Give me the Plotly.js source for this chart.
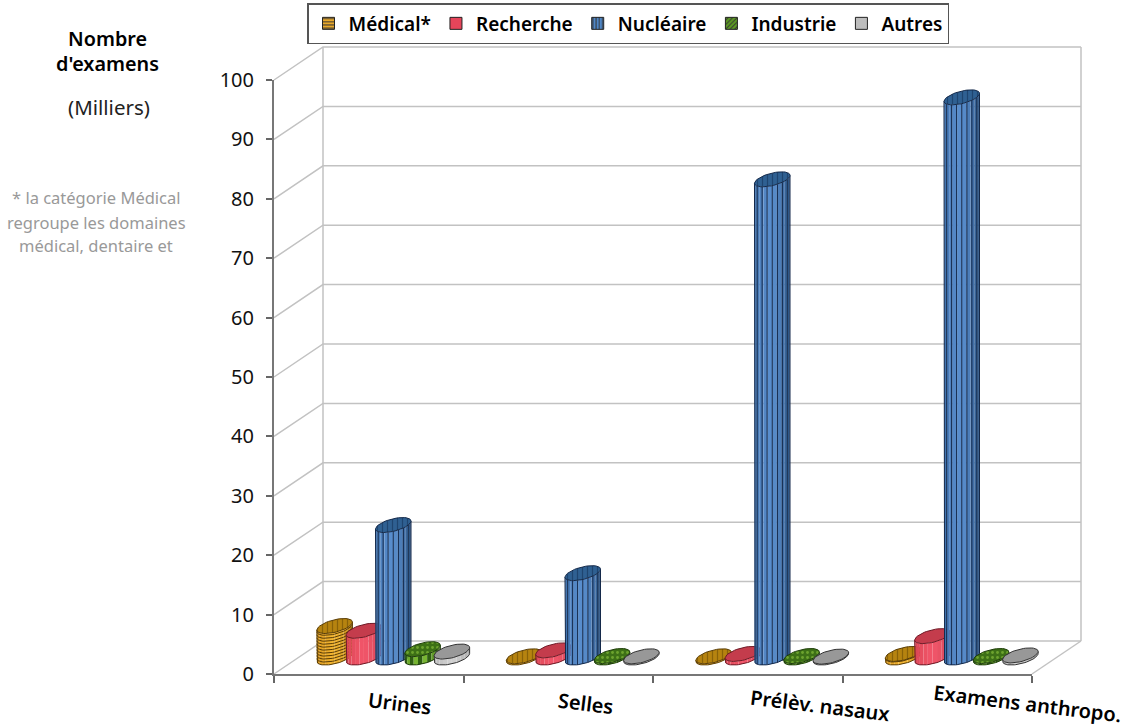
<!DOCTYPE html>
<html lang="fr">
<head>
<meta charset="utf-8">
<script src="https://cdn.plot.ly/plotly-3.0.1.min.js"></script>
<style>html,body{margin:0;padding:0;background:#fff}</style>
</head>
<body>
<div id="chart" style="width:1131px;height:728px"></div>
<script>
// Exams per sector, in thousands
const categories = ['Urines', 'Selles', 'Prélèv. nasaux', 'Examens anthropo.'];
const medical   = [5.3, 0.2, 0.2, 0.6];
const recherche = [4.5, 1.2, 0.6, 3.6];
const nucleaire = [22.3, 14.2, 80.5, 94.3];
const industrie = [1.4, 0.25, 0.25, 0.25];
const autres    = [1.0, 0.2, 0.15, 0.35];
const yTicks = [0, 10, 20, 30, 40, 50, 60, 70, 80, 90, 100];
const xTicks = [0, 1, 2, 3, 4];

const W = 1131, H = 728;
const X0 = 274, Y0 = 674, PX_PER_CAT = 189.5, PX_PER_UNIT = 5.94;
const DEPTH_X = 49 / PX_PER_CAT, DEPTH_Y = 33 / PX_PER_UNIT;   // floor depth vector in axis units
const RADIUS = 15 / PX_PER_CAT;                                // cylinder radius across the chart
const TILT_X = 9.5 / PX_PER_CAT, TILT_Y = 7.5 / PX_PER_UNIT;   // cylinder radius along the depth
const SPACING = 0.1547;                                        // gap between cylinders of one category

const series = [
  {name: 'Médical*',  values: medical,   side: ['#cf8c14', '#f4b733', '#a9720e'], top: '#b6830f', line: '#5a3d05', pat: '|', patFg: '#8a6208', swatch: '#e9a92a', swPat: '-'},
  {name: 'Recherche', values: recherche, side: ['#d5404f', '#f2566a', '#cf4053'], top: '#c43c4c', line: '#6e1a26', pat: '', patFg: '', swatch: '#e6455a', swPat: ''},
  {name: 'Nucléaire', values: nucleaire, side: ['#3b6ca6', '#5b90d0', '#1f4470'], top: '#2f6092', line: '#14294a', pat: '|', patFg: '#1f4570', swatch: '#4f86c6', swPat: '|'},
  {name: 'Industrie', values: industrie, side: ['#5f9e22', '#7dbb34', '#3f7518'], top: '#3d7016', line: '#1e3d0a', pat: '.', patFg: '#6da32e', swatch: '#5c9a22', swPat: '/'},
  {name: 'Autres',    values: autres,    side: ['#b4b4b4', '#d2d2d2', '#a0a0a0'], top: '#989898', line: '#333333', pat: '', patFg: '', swatch: '#bdbdbd', swPat: ''}
];

const hex = c => [1, 3, 5].map(i => parseInt(c.substr(i, 2), 16));
function shade(stops, u) {
  const f = u < 0.5 ? u * 2 : (u - 0.5) * 2;
  const a = hex(u < 0.5 ? stops[0] : stops[1]), b = hex(u < 0.5 ? stops[1] : stops[2]);
  return 'rgb(' + a.map((v, i) => Math.round(v + (b[i] - v) * f)).join(',') + ')';
}

// Point on the rim of a cylinder standing at axis position cx, level v
function rim(cx, v, t) {
  return [
    cx + DEPTH_X / 2 + RADIUS * Math.cos(t) + TILT_X * Math.sin(t),
    v + DEPTH_Y / 2 + TILT_Y * Math.sin(t)
  ];
}
const T_RIGHT = Math.atan2(TILT_X, RADIUS);
const frontAngle = u => T_RIGHT + Math.PI + u * Math.PI;   // u runs over the visible front, left to right

const traces = [];
const drawOn = {xaxis: 'x', yaxis: 'y', showlegend: false, hoverinfo: 'skip'};

// Back wall, side wall and floor
const gx = [], gy = [];
yTicks.forEach(v => { gx.push(0, DEPTH_X, 4 + DEPTH_X, null); gy.push(v, v + DEPTH_Y, v + DEPTH_Y, null); });
gx.push(DEPTH_X, DEPTH_X, null, 4 + DEPTH_X, 4 + DEPTH_X, null, 4, 4 + DEPTH_X);
gy.push(DEPTH_Y, 100 + DEPTH_Y, null, DEPTH_Y, 100 + DEPTH_Y, null, 0, DEPTH_Y);
traces.push(Object.assign({x: gx, y: gy, mode: 'lines', line: {color: '#c2c2c2', width: 1.5}}, drawOn));

const N_BANDS = 12, N_ARC = 8;
series.forEach((s, si) => {
  const centers = categories.map((_, c) => c + 0.5 + (si - 2) * SPACING);

  // Side of the cylinders, one trace per shading band
  for (let b = 0; b < N_BANDS; b++) {
    const xs = [], ys = [];
    centers.forEach((cx, c) => {
      const pts = [];
      for (let k = 0; k <= N_ARC; k++) pts.push(rim(cx, 0, frontAngle((b + k / N_ARC) / N_BANDS)));
      for (let k = N_ARC; k >= 0; k--) pts.push(rim(cx, s.values[c], frontAngle((b + k / N_ARC) / N_BANDS)));
      pts.forEach(p => { xs.push(p[0]); ys.push(p[1]); });
      xs.push(null); ys.push(null);
    });
    let color = shade(s.side, (b + 0.5) / N_BANDS);
    if (si === 3 && b % 2) color = '#2f5f12';
    traces.push(Object.assign({x: xs, y: ys, mode: 'none', fill: 'toself', fillcolor: color}, drawOn));
  }

  // Surface markings and the outline of the side
  const lx = [], ly = [];
  centers.forEach((cx, c) => {
    const v = s.values[c];
    if (si === 0) {
      for (let h = 0.5; h < v; h += 0.5) {
        for (let k = 0; k <= 24; k++) { const p = rim(cx, h, frontAngle(k / 24)); lx.push(p[0]); ly.push(p[1]); }
        lx.push(null); ly.push(null);
      }
    }
    if (si === 2) {
      [-0.85, -0.57, -0.29, 0, 0.29, 0.57, 0.85].forEach(f => {
        const u = 1 - Math.acos(f) / Math.PI;
        const a = rim(cx, 0, frontAngle(u)), b = rim(cx, v, frontAngle(u));
        lx.push(a[0], b[0], null); ly.push(a[1], b[1], null);
      });
    }
    const left = rim(cx, v, frontAngle(0));
    lx.push(left[0]); ly.push(left[1]);
    for (let k = 0; k <= 36; k++) { const p = rim(cx, 0, frontAngle(k / 36)); lx.push(p[0]); ly.push(p[1]); }
    const right = rim(cx, v, frontAngle(1));
    lx.push(right[0], null); ly.push(right[1], null);
  });
  traces.push(Object.assign({x: lx, y: ly, mode: 'lines', line: {color: s.line, width: 1}}, drawOn));

  // Top faces
  const tx = [], ty = [];
  centers.forEach((cx, c) => {
    for (let k = 0; k <= 48; k++) { const p = rim(cx, s.values[c], k / 48 * 2 * Math.PI); tx.push(p[0]); ty.push(p[1]); }
    tx.push(null); ty.push(null);
  });
  const top = {x: tx, y: ty, mode: 'lines', fill: 'toself', fillcolor: s.top, line: {color: s.line, width: 1}};
  if (s.pat) top.fillpattern = {shape: s.pat, fgcolor: s.patFg, bgcolor: s.top, size: 5, solidity: 0.25};
  traces.push(Object.assign(top, drawOn));
});

// Front axes; the legend keys are attached to them
series.forEach(s => {
  traces.push({
    type: 'bar', name: s.name, x: [0], y: [null], xaxis: 'x2', yaxis: 'y2', hoverinfo: 'skip',
    marker: {
      color: s.swatch,
      line: {color: '#222', width: 1},
      pattern: {shape: s.swPat, fgcolor: '#333', bgcolor: s.swatch, size: 4, solidity: 0.3}
    }
  });
});

const px = v => v / W, py = v => 1 - v / H;
const annotation = (text, x, y, font, extra) => Object.assign(
  {text, x: px(x), y: py(y), xref: 'paper', yref: 'paper', showarrow: false, xanchor: 'center', yanchor: 'middle', font}, extra || {});

const FONT = '"Noto Sans", "Open Sans", sans-serif';
const labelFont = {family: FONT, size: 20, color: '#000', weight: 600};
const titleFont = {family: FONT, size: 19.8, color: '#000', weight: 600};
const noteFont = {family: FONT, size: 16.5, color: '#999'};
const labelAt = [[400, 703], [586, 703], [820, 705], [1027, 703]];

const annotations = [
  annotation('Nombre', 108, 38, titleFont),
  annotation("d'examens", 107, 63, titleFont),
  annotation('(Milliers)', 109, 107, {family: FONT, size: 20.5, color: '#222'}),
  annotation('* la catégorie Médical', 96, 198, noteFont),
  annotation('regroupe les domaines', 96, 222, noteFont),
  annotation('médical, dentaire et', 96, 245, noteFont)
].concat(categories.map((c, i) => annotation(c, labelAt[i][0], labelAt[i][1], labelFont, {textangle: 7})));

const layout = {
  width: W, height: H,
  margin: {l: 0, r: 0, t: 0, b: 0},
  paper_bgcolor: '#fff', plot_bgcolor: 'rgba(0,0,0,0)',
  showlegend: true,
  bargap: 0,
  // page-wide scale carrying the cylinders and walls
  xaxis: {domain: [0, 1], range: [-X0 / PX_PER_CAT, (W - X0) / PX_PER_CAT], visible: false, fixedrange: true},
  yaxis: {domain: [0, 1], range: [(Y0 - H) / PX_PER_UNIT, Y0 / PX_PER_UNIT], visible: false, fixedrange: true},
  // the visible front axes
  xaxis2: {
    domain: [px(X0), px(X0 + 4 * PX_PER_CAT)], range: [0, 4], anchor: 'y2',
    tickmode: 'array', tickvals: xTicks, ticktext: xTicks.map(() => ''),
    ticks: 'outside', ticklen: 7, tickwidth: 1.5, tickcolor: '#666',
    showgrid: false, zeroline: false, showline: true, linecolor: '#777', linewidth: 2, fixedrange: true
  },
  yaxis2: {
    domain: [py(Y0), py(Y0 - 100 * PX_PER_UNIT)], range: [0, 100], anchor: 'x2',
    tickmode: 'array', tickvals: yTicks,
    ticks: 'outside', ticklen: 6, tickwidth: 1.5, tickcolor: '#666', ticklabelstandoff: 8,
    tickfont: {family: FONT, size: 20, color: '#111'},
    showgrid: false, zeroline: false, showline: true, linecolor: '#777', linewidth: 2, fixedrange: true
  },
  legend: {
    orientation: 'h', x: px(307), y: py(3), xanchor: 'left', yanchor: 'top',
    bgcolor: '#fff', bordercolor: '#555', borderwidth: 1.5,
    font: {family: FONT, size: 19, color: '#000', weight: 600},
    itemclick: false, itemdoubleclick: false
  },
  annotations
};

Plotly.newPlot('chart', traces, layout, {displayModeBar: false, responsive: false});
</script>
</body>
</html>
